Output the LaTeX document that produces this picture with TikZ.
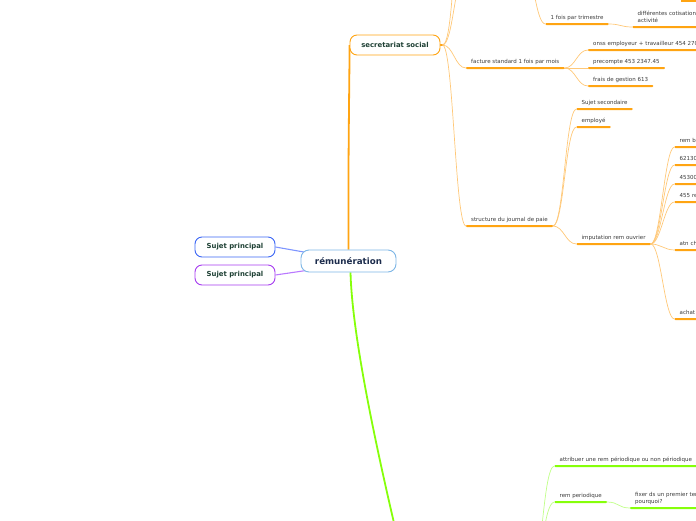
\documentclass[tikz,border=0pt]{standalone}
\usepackage{fontspec}
\setmainfont{DejaVu Sans}
\usetikzlibrary{backgrounds}
\definecolor{org}{HTML}{FFA412}
\definecolor{orgl}{HTML}{FFC878}
\definecolor{grn}{HTML}{86FF0A}
\definecolor{grnl}{HTML}{C0FF88}
\definecolor{txt}{HTML}{3A3A3A}
\definecolor{remborder}{HTML}{7DB6E6}
\definecolor{remt}{HTML}{1C2C4C}
\definecolor{boxt}{HTML}{1E4034}
\definecolor{bluec}{HTML}{3B66F5}
\definecolor{bluel}{HTML}{7E95FF}
\definecolor{purc}{HTML}{A63BF0}
\definecolor{purl}{HTML}{B978FF}
\begin{document}
\begin{tikzpicture}[x=1pt,y=-1pt,
  leaf/.style={anchor=south west, inner xsep=5pt, inner ysep=3.5pt,
    text height=4pt, text depth=1.3pt, align=left, text=txt,
    font=\fontsize{5.5}{6.4}\selectfont},
  twoline/.style={text depth=7.7pt},
  topic/.style={draw=#1, fill=white, rounded corners=7pt, line width=0.9pt,
    minimum width=80pt, minimum height=20pt, inner sep=0pt, text=boxt,
    font=\fontsize{6.9}{8}\selectfont\bfseries},
  oc/.style={draw=orgl, line width=0.7pt},
  gc/.style={draw=grnl, line width=0.7pt},
  hz/.style={out=0, in=180, distance=#1}
]
\useasboundingbox (0,0) rectangle (696,520);
\clip (0,0) rectangle (696,520);

% main topics
\node[draw=remborder, fill=white, rounded corners=8pt, line width=0.9pt,
  minimum width=95pt, minimum height=22pt, inner sep=0pt, text=remt,
  font=\fontsize{8.7}{10}\selectfont\bfseries] (rem) at (348.5,261) {rémunération};
\node[topic=bluec] (sp1) at (235,247) {Sujet principal};
\node[topic=purc] (sp2) at (235,275) {Sujet principal};
\node[topic=org, minimum width=90pt] (sec) at (395,45) {secretariat social};

% off-screen anchors
\coordinate (top1) at (466,-30);
\coordinate (top2) at (466,-110);
\coordinate (ptri) at (524,-30);
\coordinate (bar1) at (681,0);
\coordinate (bar2) at (700,2);
\coordinate (gend) at (398,540);
\coordinate (gpar) at (530,580);

% orange branch
\node[leaf] (tri) at (545.5,24) {1 fois par trimestre};
\node[leaf, twoline, text width=80pt] (diff) at (632.5,27) {différentes cotisations\\activité};
\node[leaf] (fac) at (466,68) {facture standard 1 fois par mois};
\node[leaf, text width=120pt] (onss) at (588,50) {onss employeur + travailleur 454 270};
\node[leaf] (prec) at (588,68) {precompte 453 2347.45};
\node[leaf] (frais) at (588,86) {frais de gestion 613};
\node[leaf] (struc) at (466,226) {structure du journal de paie};
\node[leaf] (ssec) at (576.5,109) {Sujet secondaire};
\node[leaf] (empl) at (576.5,127) {employé};
\node[leaf] (imp) at (576.5,244) {imputation rem ouvrier};
\node[leaf, text width=40pt] (remb) at (674.5,147) {rem b};
\node[leaf, text width=40pt] (c621) at (674.5,165) {62130};
\node[leaf, text width=40pt] (c453) at (674.5,184) {45300};
\node[leaf, text width=40pt] (c455) at (674.5,202) {455 re};
\node[leaf, text width=40pt] (atn) at (674.5,250) {atn ch};
\node[leaf, text width=40pt] (achat) at (674.5,319) {achat};

% green branch
\node[leaf, text width=150pt] (attr) at (554.5,466) {attribuer une rem périodique ou non périodique};
\node[leaf] (rper) at (554.5,502) {rem periodique};
\node[leaf, twoline, text width=80pt] (fix) at (630,508) {fixer ds un premier ter\\pourquoi?};

% underlines (filled bars)
\foreach \n in {tri,diff,fac,onss,prec,frais,struc,ssec,empl,imp,remb,c621,c453,c455,atn,achat}
  \fill[org, rounded corners=0.9pt] ([yshift=1pt]\n.south west) rectangle ([yshift=-1pt]\n.south east);
\foreach \n in {attr,rper,fix}
  \fill[grn, rounded corners=0.9pt] ([yshift=1pt]\n.south west) rectangle ([yshift=-1pt]\n.south east);
\fill[org] (bar1) rectangle (bar2);

\begin{scope}[on background layer]
\clip (0,0) rectangle (696,520);
% trunks
\draw[org, line width=1.8pt] (rem.north) .. controls (348,160) and (349.5,80) .. (sec.west);
\draw[grn, line width=1.8pt] ([xshift=2pt]rem.south) .. controls (352,330) and (372,430) .. (gend);
\draw[bluel, line width=1.1pt] (sp1.east) -- ([shift={(9,-8)}]rem.west);
\draw[purl, line width=1.1pt] (sp2.east) -- ([shift={(9,9)}]rem.west);
\draw[org, line width=1.8pt, line cap=round] (sec.east) -- ++(3,0);
% secretariat children
\draw[oc] ([xshift=2pt]sec.east) to[hz=11pt] (top1);
\draw[oc] ([xshift=2pt]sec.east) to[hz=13pt] (top2);
\draw[oc] ([xshift=2pt]sec.east) to[hz=11pt] (fac.south west);
\draw[oc] ([xshift=2pt]sec.east) to[hz=11pt] (struc.south west);
\draw[oc] (ptri) to[hz=10pt] (tri.south west);
\draw[oc] (tri.south east) to[hz=12pt] (diff.south west);
% facture children
\draw[oc] (fac.south east) to[hz=11pt] (onss.south west);
\draw[oc] (fac.south east) to[hz=11pt] (prec.south west);
\draw[oc] (fac.south east) to[hz=11pt] (frais.south west);
% structure children
\draw[oc] (struc.south east) to[hz=11pt] (ssec.south west);
\draw[oc] (struc.south east) to[hz=11pt] (empl.south west);
\draw[oc] (struc.south east) to[hz=11pt] (imp.south west);
% imputation children
\draw[oc] (imp.south east) to[hz=10pt] (remb.south west);
\draw[oc] (imp.south east) to[hz=10pt] (c621.south west);
\draw[oc] (imp.south east) to[hz=10pt] (c453.south west);
\draw[oc] (imp.south east) to[hz=10pt] (c455.south west);
\draw[oc] (imp.south east) to[hz=10pt] (atn.south west);
\draw[oc] (imp.south east) to[hz=10pt] (achat.south west);
% green children
\draw[gc] (gpar) to[hz=12pt] (attr.south west);
\draw[gc] (gpar) to[hz=12pt] (rper.south west);
\draw[gc] (rper.south east) to[hz=12pt] (fix.south west);
\end{scope}
\end{tikzpicture}
\end{document}
